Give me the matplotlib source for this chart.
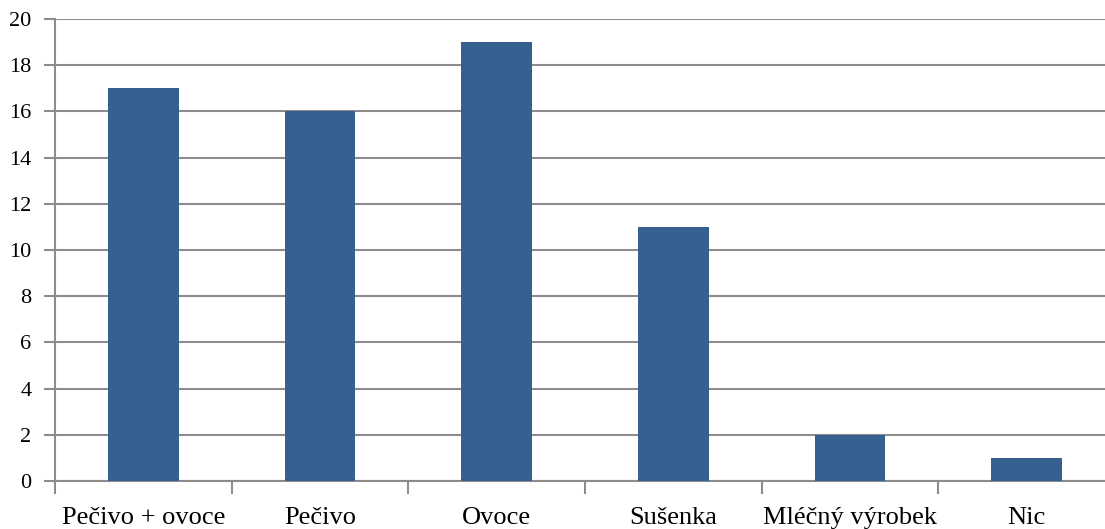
import matplotlib
matplotlib.use("Agg")
from matplotlib import pyplot as plt

# kategorie a počty odpovědí
categories = ["Pečivo + ovoce", "Pečivo", "Ovoce", "Sušenka", "Mléčný výrobek", "Nic"]
counts = [17, 16, 19, 11, 2, 1]
y_ticks = list(range(0, 21, 2))


def main():
    plt.rcParams['font.family'] = ['Liberation Serif', 'DejaVu Serif']
    fig = plt.figure(figsize=(11.05, 5.29), dpi=100)
    # osa přesahuje vpravo za okraj obrázku
    ax = fig.add_axes([0.0498, 0.0907, 0.9593, 0.8733])

    x = range(len(categories))
    ax.bar(x, counts, width=0.40, color="#36608f", zorder=3)

    ax.set_xlim(-0.5, len(categories) - 0.5)
    ax.set_ylim(0, 20)
    ax.set_yticks(y_ticks)
    ax.set_yticklabels([str(v) for v in y_ticks], fontsize=16)

    # popisky kategorií pod sloupci, značky mezi kategoriemi
    ax.set_xticks(list(x))
    ax.set_xticklabels(categories, fontsize=19)
    ax.tick_params(axis="x", which="major", length=0, pad=19)
    ax.set_xticks([i + 0.5 for i in range(-1, len(categories))], minor=True)
    ax.tick_params(axis="x", which="minor", length=9, width=1.5, color="#8c8c8c")
    ax.tick_params(axis="y", length=8, width=1.5, color="#8c8c8c", pad=9)

    ax.grid(axis="y", color="#8c8c8c", linewidth=1.5, zorder=0)
    for side in ["top", "right"]:
        ax.spines[side].set_visible(False)
    for side in ["left", "bottom"]:
        ax.spines[side].set_color("#8c8c8c")
        ax.spines[side].set_linewidth(1.5)

    fig.savefig("out.png", dpi=100)


if __name__ == "__main__":
    main()
